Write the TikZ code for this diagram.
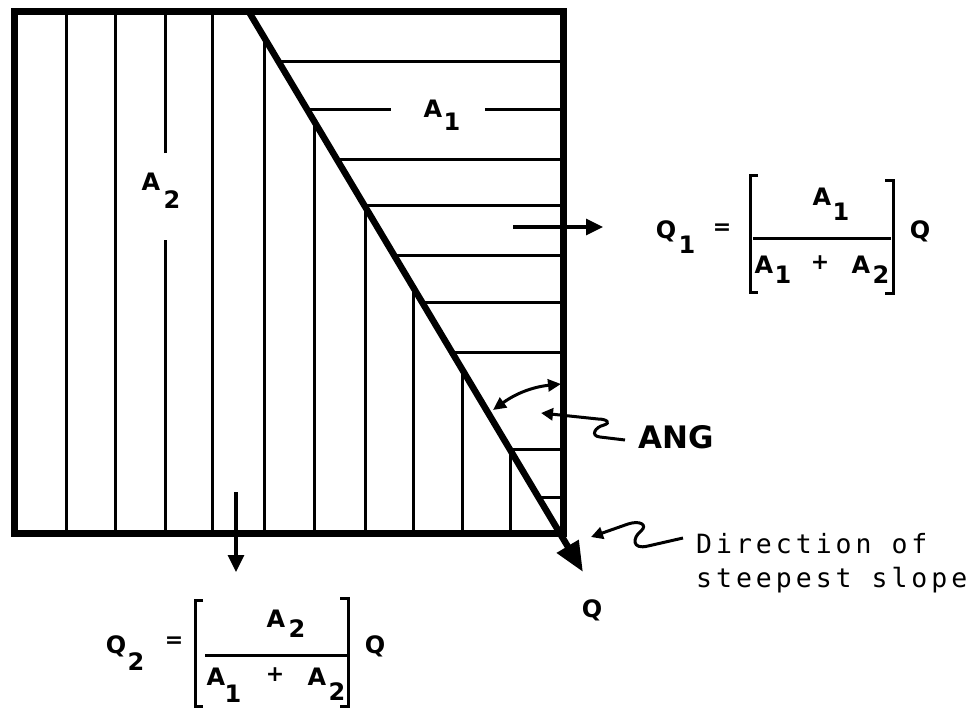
\documentclass[tikz,border=0pt]{standalone}
\usepackage{fontspec}
\setmainfont{DejaVu Sans}
\newfontfamily\dirfont{DejaVu Sans Mono}[LetterSpace=15]
\usetikzlibrary{arrows.meta,calc}
\begin{document}
\begin{tikzpicture}[x=1pt,y=-1pt,
  box/.style={line width=7pt, line join=miter},
  hatch/.style={line width=3pt},
  thickarrow/.style={line width=6.5pt, -{Triangle[length=30pt,width=24pt]}},
  flow/.style={line width=3.2pt, -{Triangle[length=17pt,width=16pt]}},
  pointer/.style={line width=3pt, -{Triangle[length=12pt,width=12pt]}},
  brk/.style={line width=3pt},
  lbl/.style={inner sep=0pt, anchor=base, font=\bfseries\fontsize{24}{24}\selectfont},
  sgn/.style={inner sep=0pt, anchor=center, font=\bfseries\fontsize{22}{22}\selectfont},
  dirtxt/.style={inner sep=0pt, anchor=base west, font=\dirfont\fontsize{26.5}{26.5}\selectfont},
  angtxt/.style={inner sep=0pt, anchor=base west, font=\bfseries\fontsize{31}{31}\selectfont}]
\useasboundingbox (0,0) rectangle (973,709);

\coordinate (D0) at (249,12);
\coordinate (D1) at (583,572);

% vertical hatching (A2 side)
\foreach \x in {66,115,212} \draw[hatch] (\x,533) -- (\x,12);
\draw[hatch] (165,533) -- (165,240);
\draw[hatch] (165,153) -- (165,12);
\foreach \x in {264,314,365,413,462,510} {
  \pgfmathsetmacro\yy{12+(\x-249)*1.67665}
  \draw[hatch] (\x,533) -- (\x,\yy);
}
% horizontal hatching (A1 side)
\foreach \y in {61,159,205,255,302,352,449,497} {
  \pgfmathsetmacro\xx{249+(\y-12)*0.596429}
  \draw[hatch] (\xx,\y) -- (563,\y);
}
\pgfmathsetmacro\xa{249+(109-12)*0.596429}
\draw[hatch] (\xa,109) -- (391,109);
\draw[hatch] (485,109) -- (563,109);

% outer box
\draw[box] (14,12) rectangle (563,533);

% direction of steepest slope
\draw[thickarrow] (D0) -- (D1);

% area labels
\node[lbl] (a1A) at (433,117) {A};
\node[lbl] (a1s) at (452,130) {1};
\node[lbl] (a2A) at (151,190) {A};
\node[lbl] (a2s) at (172,208) {2};

% outflow arrows
\coordinate (q1s) at (513,227);
\coordinate (q1e) at (603,227);
\draw[flow] (q1s) -- (q1e);
\coordinate (q2s) at (236,492);
\coordinate (q2e) at (236,572);
\draw[flow] (q2s) -- (q2e);

% ANG
\coordinate (angL) at (493,410);
\coordinate (angR) at (561,384);
\draw[line width=3pt, {Triangle[length=13pt,width=12pt]}-{Triangle[length=13pt,width=12pt]}] (angL) to[bend left=15] (angR);
\node[angtxt] (ang) at (638,448) {ANG};
\coordinate (angP) at (541,413);
\draw[pointer] (625,440) -- (600,437) .. controls (590,436) and (595,427) .. (604,425) .. controls (611,423) and (607,419) .. (598,419) -- (angP);

% Direction of steepest slope
\node[dirtxt] (dir1) at (696,553) {Direction of};
\node[dirtxt] (dir2) at (696,587) {steepest slope};
\coordinate (dirP) at (591,537);
\draw[pointer] (683,538) -- (648,546) .. controls (632,550) and (632,538) .. (641,531) .. controls (648,525) and (640,520) .. (628,524) -- (dirP);

% Q at outlet
\node[lbl] (qout) at (592,617) {Q};

% Q1 equation
\node[lbl] (q1Q) at (666,238) {Q};
\node[lbl] (q1s1) at (687,253) {1};
\node[sgn] (q1eq) at (722,229) {=};
\draw[brk] (758,175) -- (750,175) -- (750,292) -- (758,292);
\draw[brk] (885,180) -- (893,180) -- (893,293) -- (885,293);
\draw[brk] (753,238) -- (891,238);
\node[lbl] (n1A) at (822,205) {A};
\node[lbl] (n1s) at (841,220) {1};
\node[lbl] (d1A) at (764,273) {A};
\node[lbl] (d1s) at (783,283) {1};
\node[sgn] (d1p) at (820,263) {+};
\node[lbl] (d1B) at (861,273) {A};
\node[lbl] (d1t) at (881,283) {2};
\node[lbl] (q1Qr) at (920,238) {Q};

% Q2 equation
\node[lbl] (q2Q) at (116,653) {Q};
\node[lbl] (q2s2) at (136,670) {2};
\node[sgn] (q2eq) at (174,642) {=};
\draw[brk] (203,600) -- (195,600) -- (195,706) -- (203,706);
\draw[brk] (340,598) -- (348,598) -- (348,706) -- (340,706);
\draw[brk] (205,655) -- (348,655);
\node[lbl] (n2A) at (276,627) {A};
\node[lbl] (n2s) at (297,637) {2};
\node[lbl] (d2A) at (216,685) {A};
\node[lbl] (d2s) at (233,702) {1};
\node[sgn] (d2p) at (275,675) {+};
\node[lbl] (d2B) at (317,685) {A};
\node[lbl] (d2t) at (337,700) {2};
\node[lbl] (q2Qr) at (375,653) {Q};
\end{tikzpicture}
\end{document}
